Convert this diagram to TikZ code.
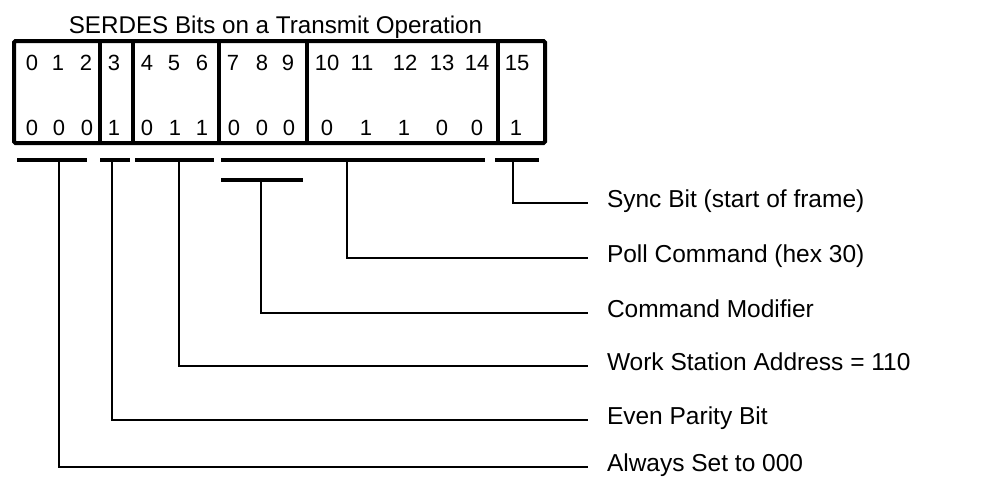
\documentclass[tikz,border=0pt]{standalone}
\usepackage{fontspec}
\setmainfont{Liberation Sans}
\begin{document}
\begin{tikzpicture}[x=1pt,y=-1pt,
  frame/.style={line width=4pt},
  bar/.style={line width=3.5pt},
  stem/.style={line width=2.6pt},
  digit/.style={font=\fontsize{22}{22}\selectfont, inner sep=0pt, anchor=base},
  lbl/.style={anchor=west, font=\fontsize{24.5}{25}\selectfont, inner xsep=19pt, inner ysep=0pt, outer sep=0pt, text height=17.5pt, text depth=8.5pt}]
\useasboundingbox (0,0) rectangle (983,479);
\node[font=\fontsize{24.2}{24}\selectfont, anchor=base, inner sep=0pt] (title) at (275.5,33) {SERDES Bits on a Transmit Operation};
% register frame
\draw[frame, rounded corners=1.5pt] (14,41) rectangle (545,143);
\foreach \x in {100,133,219,307,498} \draw[frame] (\x,41) -- (\x,143);
% bit numbers
\foreach \x/\t [count=\i] in {32/0,58/1,86/2,114/3,147/4,174/5,202/6,233/7,262/8,288/9,327/10,362/11,405/12,442/13,477/14,517/15}
  \node[digit] (n\i) at (\x,70.3) {\t};
% bit values
\foreach \x/\t [count=\i] in {32/0,59/0,87/0,114/1,147/0,175/1,202/1,234/0,262/0,289/0,327/0,366/1,404/1,442/0,477/0,516/1}
  \node[digit] (v\i) at (\x,135.3) {\t};
% field bars
\draw[bar] (17,160) -- (87,160);
\draw[bar] (100,160) -- (130,160);
\draw[bar] (135,160) -- (214,160);
\draw[bar] (221,160) -- (485,160);
\draw[bar] (495,160) -- (539,160);
\draw[bar] (221,180) -- (303,180);
% stem origins
\coordinate (bAlways) at (59,160);
\coordinate (bParity) at (112,160);
\coordinate (bAddr) at (179,160);
\coordinate (bMod) at (261,180);
\coordinate (bPoll) at (347,160);
\coordinate (bSync) at (513,160);
% labels
\node[lbl] (lSync) at (588,203) {Sync Bit (start of frame)};
\node[lbl] (lPoll) at (588,258) {Poll Command (hex 30)};
\node[lbl] (lMod) at (588,313) {Command Modifier};
\node[lbl] (lAddr) at (588,366) {Work Station Address = 110};
\node[lbl] (lParity) at (588,420) {Even Parity Bit};
\node[lbl] (lAlways) at (588,467) {Always Set to 000};
% connectors
\draw[stem] (bSync) |- (lSync.west);
\draw[stem] (bPoll) |- (lPoll.west);
\draw[stem] (bMod) |- (lMod.west);
\draw[stem] (bAddr) |- (lAddr.west);
\draw[stem] (bParity) |- (lParity.west);
\draw[stem] (bAlways) |- (lAlways.west);
\end{tikzpicture}
\end{document}
